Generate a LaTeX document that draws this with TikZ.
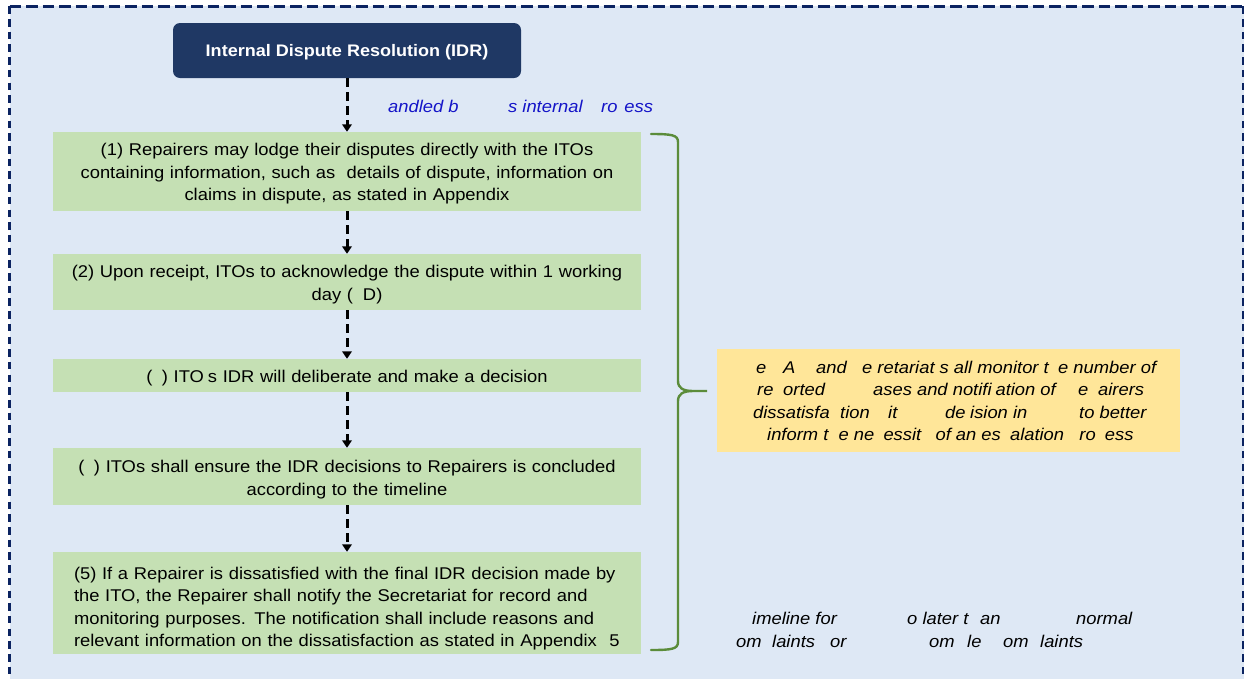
\documentclass[tikz,border=0pt]{standalone}
\usepackage{fontspec}
\setmainfont{Liberation Sans}[FakeStretch=1.08]
\usetikzlibrary{arrows.meta}
\definecolor{bgblue}{HTML}{DEE8F5}
\definecolor{framenavy}{HTML}{0B2361}
\definecolor{idrnavy}{HTML}{1F3864}
\definecolor{boxgreen}{HTML}{C5E0B4}
\definecolor{noteyellow}{HTML}{FFE699}
\definecolor{bracegreen}{HTML}{5B8C3A}
\definecolor{labelblue}{HTML}{1414C8}
\newcommand{\gb}[2]{\makebox[#1pt][l]{#2}}
\newcommand{\toppad}[1]{\rule{0pt}{#1pt}}
\begin{document}
\begin{tikzpicture}[x=1pt,y=-1pt,
  every node/.style={font=\fontsize{17pt}{22.5pt}\selectfont, inner sep=0pt},
  stepbox/.style={fill=boxgreen, minimum width=588pt, align=center, text width=580pt},
  flow/.style={draw=black, line width=3pt, dash pattern=on 9pt off 5pt, -{Triangle[width=9.5pt,length=7.5pt]}},
  frameh/.style={draw=framenavy, line width=2.8pt, dash pattern=on 11.5pt off 5pt},
  framev/.style={draw=framenavy, line width=2.6pt, dash pattern=on 7.5pt off 5.2pt},
  itext/.style={anchor=base west, font=\fontsize{17pt}{22.5pt}\selectfont\itshape},
]
\useasboundingbox (0,0) rectangle (1244,678);
\fill[white] (0,0) rectangle (1244,678);
\fill[bgblue] (9.5,6.3) rectangle (1243.5,700);
\draw[frameh] (9.5,6.3) -- (1243.5,6.3);
\draw[framev] (9.5,6.3) -- (9.5,700);
\draw[framev] (1243.5,6.3) -- (1243.5,700);

% title
\node[fill=idrnavy, rounded corners=7pt, minimum width=348pt, minimum height=55pt,
      text height=14pt, text depth=2pt,
      text=white, font=\fontsize{16.7pt}{22.5pt}\selectfont\bfseries] (idr) at (347,50.5)
      {Internal Dispute Resolution (IDR)};

% steps
\node[stepbox, minimum height=79pt] (b1) at (347,171.5)
 {\toppad{17.4}(1) Repairers may lodge their disputes directly with the ITOs\\
  containing information, such as\ \ details of dispute, information on\\
  claims in dispute, as stated in Appendix};
\node[stepbox, minimum height=56pt] (b2) at (347,282)
 {\toppad{17.4}(2) Upon receipt, ITOs to acknowledge the dispute within 1 working\\
  day (\hspace{10pt}D)};
\node[stepbox, minimum height=33pt] (b3) at (347,375.5)
 {\toppad{18.4}(\hspace{9.5pt}) ITO\hspace{4pt}s IDR will deliberate and make a decision};
\node[stepbox, minimum height=57pt] (b4) at (347,476.5)
 {\toppad{18.4}(\hspace{9.5pt}) ITOs shall ensure the IDR decisions to Repairers is concluded\\
  according to the timeline};
\node[stepbox, minimum height=102pt, align=left, text width=546pt] (b5) at (347,603)
 {\toppad{23.4}(5) If a Repairer is dissatisfied with the final IDR decision made by\\
  the ITO, the Repairer shall notify the Secretariat for record and\\
  monitoring purposes. The notification shall include reasons and\\
  relevant information on the dissatisfaction as stated in Appendix\hspace{12.5pt}5};

% connectors
\draw[flow] (idr.south) -- (b1.north);
\draw[flow] (b1.south) -- (b2.north);
\draw[flow] (b2.south) -- (b3.north);
\draw[flow] (b3.south) -- (b4.north);
\draw[flow] (b4.south) -- (b5.north);

% blue label
\node[itext, text=labelblue] (lbl) at (388,112.5)
 {\gb{120}{andled b}\gb{93}{s internal}ro\hspace{7pt}ess};

% brace
\draw[bracegreen, line width=2.4pt, line cap=round]
 (651,134) .. controls (672,134) and (678,135) .. (678,142)
 -- (678,381) .. controls (678,388) and (683,391) .. (693,391) -- (707,391)
 -- (693,391) .. controls (683,391) and (678,394) .. (678,401)
 -- (678,642) .. controls (678,649) and (672,650) .. (651,650);

% yellow note
\fill[noteyellow] (717,349) rectangle (1180,452);
\node[itext] (y1) at (756,373.5)
 {\gb{27}{e}\gb{33}{A}\gb{46}{and}\gb{196}{e retariat s\hspace{5pt}all monitor t}e number of};
\node[itext] (y2) at (757,395.5)
 {\gb{26}{re}\gb{90}{orted}\gb{205}{ases and notifi\hspace{4pt}ation of}\gb{20}{e}airers};
\node[itext] (y3) at (753,418)
 {\gb{87}{dissatisfa}\gb{48}{tion}\gb{57}{it}\gb{25}{de}\gb{109}{ision in}to better};
\node[itext] (y4) at (767,440)
 {inform t\phantom{h}e ne\phantom{c}essit\phantom{y} of an es\phantom{c}alation \phantom{p}ro\phantom{c}ess};

% bottom note
\node[itext] (t1) at (752,624)
 {\gb{155}{imeline for}\gb{73}{o later t}\gb{96}{an}normal};
\node[itext] (t2) at (736,647)
 {\gb{36}{om}\gb{58}{laints}\gb{99}{or}\gb{38}{om}\gb{36}{le}\gb{37}{om}laints};
\end{tikzpicture}
\end{document}
